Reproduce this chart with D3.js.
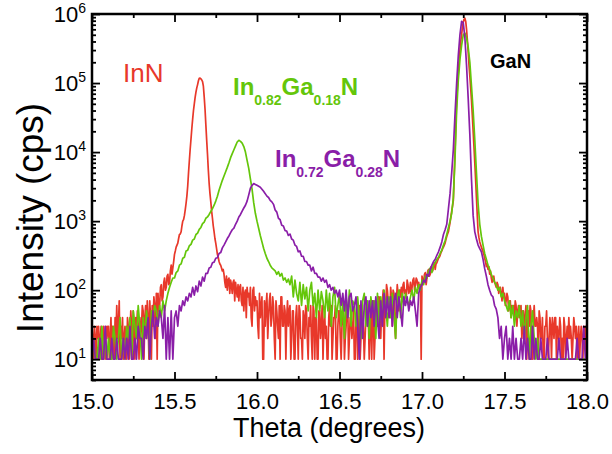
<!DOCTYPE html>
<html>
<head>
<meta charset="utf-8">
<script src="https://cdn.jsdelivr.net/npm/d3@7"></script>
<style>
  body { margin: 0; background: #fff; }
  text { font-family: "Liberation Sans", Arial, Helvetica, sans-serif; }
</style>
</head>
<body>
<svg id="chart" width="612" height="454"></svg>
<script>
// XRD theta scans from 15.00 to 18.00 degrees.
// InN is sampled every 0.005 degree, the two alloys every 0.01 degree.
const thetaStart = 15.0;
const stepInN = 0.005;
const stepAlloy = 0.01;

// InN layer (cps), 601 points
const inN = [
  30,20,10,30,20,10,30,20,30,10,
  20,30,10,20,30,20,10,30,20,30,
  30,10,20,40,10,30,20,10,40,20,
  60,20,30,70,10,30,20,40,10,20,
  30,20,10,40,30,10,20,50,30,10,
  50,30,10,40,20,50,30,10,40,20,
  30,60,50,10,40,60,20,70,40,10,
  70,40,10,60,30,80,60,20,90,10,
  90,50,60,110,120,70,80,130,150,100,
  110,160,170,120,130,190,230,170,210,260,
  330,370,420,450,480,560,640,650,700,850,
  1000,1050,1200,1450,1800,2300,3200,5000,7500,11000,
  15500,22000,30000,40000,50000,62000,74000,85000,95000,108000,
  117000,118000,115000,111000,105000,90000,63000,42000,25000,15000,
  9300,5500,3500,2500,1900,1400,1100,850,700,560,
  480,400,330,300,260,240,230,210,190,200,
  170,130,110,160,100,140,150,90,140,120,
  90,130,140,70,130,100,80,120,70,110,
  120,70,60,110,50,90,100,40,110,80,
  90,60,110,40,30,100,110,50,80,60,
  70,30,20,90,40,60,80,10,10,70,
  30,60,90,20,40,70,90,30,40,80,
  60,20,10,70,50,30,20,60,10,80,
  80,30,30,60,50,10,40,70,30,50,
  60,10,20,50,50,10,10,40,60,30,
  10,60,50,20,20,10,50,40,20,60,
  50,20,10,40,30,60,20,10,60,50,
  10,40,40,10,10,50,50,20,30,60,
  10,30,50,20,30,10,10,40,60,30,
  60,10,20,40,40,60,10,10,30,50,
  50,20,10,30,40,50,10,20,30,60,
  60,10,20,40,40,20,30,50,10,10,
  40,60,10,30,60,10,20,50,50,30,
  10,20,40,70,60,40,10,30,60,10,
  40,70,10,20,60,50,30,80,80,40,
  20,50,70,100,10,60,50,120,100,70,
  70,40,110,80,30,100,90,30,20,70,
  120,90,50,100,80,110,70,120,130,90,
  100,80,140,120,90,100,130,90,110,140,
  150,100,120,150,140,110,130,100,120,10,
  160,140,130,170,180,120,150,190,200,160,
  170,220,210,190,230,250,200,240,250,270,
  290,300,320,350,370,400,420,450,480,540,
  600,650,700,820,950,1150,1400,1650,2000,4500,
  10000,24000,56000,90000,140000,210000,300000,400000,500000,640000,
  760000,840000,870000,780000,600000,420000,280000,180000,126000,85000,
  56000,34000,20000,12000,7000,4000,2200,1200,700,580,
  500,460,420,390,360,330,290,260,220,240,
  200,220,170,190,150,130,140,160,130,120,
  110,130,120,90,100,110,90,70,110,80,
  90,60,70,90,80,50,60,70,40,60,
  50,60,40,70,60,30,50,60,40,50,
  60,20,30,50,20,40,60,10,30,50,
  30,60,50,10,10,40,60,30,30,40,
  30,10,50,40,20,20,40,10,10,30,
  30,50,20,10,20,40,30,10,40,30,
  20,40,40,10,30,20,20,40,30,10,
  20,10,40,30,10,20,30,20,40,20,
  30,20,10,20,40,30,20,30,10,20,
  30,10,20,30,20,10,30,20,30,10,
  20
];

// In0.82Ga0.18N layer (cps), 301 points
const inGaN82 = [
  10,20,10,10,20,10,30,10,20,10,
  20,10,10,30,20,10,20,40,10,20,
  10,30,20,40,10,50,30,20,60,30,
  10,40,20,50,30,10,50,40,60,50,
  30,60,40,70,50,70,90,110,130,150,
  150,180,190,230,240,290,300,370,380,440,
  460,530,550,640,670,760,810,920,970,1100,
  1150,1250,1380,1520,1700,1950,2300,2800,3300,3900,
  4500,5200,6000,7000,8300,9500,10800,12300,14000,14800,
  14300,13500,12000,10000,7600,5800,4100,2900,1850,1300,
  1000,790,620,500,405,340,290,260,230,210,
  200,190,170,185,160,175,140,150,130,145,
  120,160,80,140,90,70,130,60,120,75,
  110,50,100,130,60,90,40,100,50,95,
  70,40,100,50,90,30,80,110,40,60,
  90,30,70,20,80,40,100,30,70,60,
  30,80,40,20,70,90,30,70,20,80,
  50,70,20,90,30,80,40,100,60,30,
  80,40,90,50,20,80,100,40,90,60,
  90,70,60,80,100,70,110,90,120,100,
  140,120,160,150,190,210,180,230,250,280,
  300,340,380,450,520,640,800,1000,1300,2200,
  8000,40000,110000,220000,350000,500000,530000,450000,330000,200000,
  90000,40000,15000,5000,1800,900,600,450,340,280,
  230,200,170,150,130,120,100,110,80,90,
  70,60,50,70,40,60,30,50,40,60,
  30,50,20,40,60,10,30,50,20,10,
  20,10,10,10,10,10,10,10,10,10,
  10,10,10,10,10,10,10,10,10,10,
  10,10,10,10,10,10,10,10,10,10,
  10
];

// In0.72Ga0.28N layer (cps), 301 points
const inGaN72 = [
  10,20,10,10,10,20,10,10,30,10,
  10,10,20,10,10,20,10,10,10,20,
  10,20,10,30,10,10,20,10,30,20,
  20,10,30,20,40,10,30,50,20,40,
  30,50,40,20,60,10,40,10,50,10,
  40,50,30,60,50,70,60,80,70,90,
  80,110,85,115,95,135,115,155,135,175,
  175,210,215,250,255,290,295,340,350,410,
  450,500,560,610,680,750,790,900,1000,1150,
  1250,1400,1550,1700,1950,2400,3000,3300,3500,3400,
  3300,3200,3100,2900,2700,2500,2300,2200,2000,1900,
  1750,1450,1350,1100,1050,870,850,730,720,620,
  650,550,530,450,430,360,370,310,310,260,
  260,230,230,190,215,175,175,155,155,135,
  150,130,140,110,120,100,110,90,100,80,
  100,60,90,50,100,40,80,90,50,60,
  80,30,10,70,20,60,80,30,70,40,
  70,30,80,40,20,70,30,90,40,80,
  40,80,30,70,90,40,80,50,30,80,
  60,80,50,70,60,80,50,30,90,110,
  120,140,130,170,160,200,230,260,280,320,
  360,420,500,640,750,900,1500,2500,5000,11000,
  35000,100000,250000,500000,780000,750000,450000,180000,60000,18000,
  4000,1200,700,550,450,400,360,280,205,160,
  120,100,85,80,60,53,40,20,30,10,
  20,30,10,20,10,30,10,20,10,10,
  20,10,30,10,20,10,10,30,10,20,
  10,10,20,10,10,10,20,10,10,10,
  10,10,10,20,10,10,10,10,20,10,
  10,10,10,10,20,10,10,10,30,10,
  10
];

const xMajorTicks = [15.0, 15.5, 16.0, 16.5, 17.0, 17.5, 18.0];
const xMinorTicks = [15.25, 15.75, 16.25, 16.75, 17.25, 17.75];
const yDecadeExponents = [1, 2, 3, 4, 5, 6];

const colors = { inN: "#e8382a", g82: "#64c60a", g72: "#8a1ea8" };

const svg = d3.select("#chart");
const margin = { left: 92, right: 25, top: 14, bottom: 74 };
const W = 612, H = 454;
const plotW = W - margin.left - margin.right;
const plotH = H - margin.top - margin.bottom;

const x = d3.scaleLinear().domain([15.0, 18.0]).range([margin.left, margin.left + plotW]);
const y = d3.scaleLog().domain([5, 1e6]).range([margin.top + plotH, margin.top]);

svg.append("defs").append("clipPath").attr("id", "plotClip")
  .append("rect")
  .attr("x", margin.left).attr("y", margin.top)
  .attr("width", plotW).attr("height", plotH);

// Drawing order: InN underneath, then In0.82Ga0.18N, then In0.72Ga0.28N
const series = [
  { data: inN, step: stepInN, color: colors.inN },
  { data: inGaN82, step: stepAlloy, color: colors.g82 },
  { data: inGaN72, step: stepAlloy, color: colors.g72 }
];

const gData = svg.append("g").attr("clip-path", "url(#plotClip)");
series.forEach(s => {
  const pts = s.data.map((v, i) => [thetaStart + i * s.step, v]);
  const line = d3.line().x(d => x(d[0])).y(d => y(d[1]));
  gData.append("path")
    .datum(pts)
    .attr("d", line)
    .attr("fill", "none")
    .attr("stroke", s.color)
    .attr("stroke-width", 1.7)
    .attr("stroke-linejoin", "round");
});

// Axes: ticks point inward on all four sides
function styleAxis(g) {
  g.select(".domain").remove();
  g.selectAll(".tick line").attr("stroke", "#000").attr("stroke-width", 1.8);
}

const bottomY = margin.top + plotH;
const leftX = margin.left, rightX = margin.left + plotW;

svg.append("g").attr("transform", `translate(0,${bottomY})`)
  .call(d3.axisBottom(x).tickValues(xMajorTicks).tickSize(-8).tickPadding(13)
    .tickFormat(d3.format(".1f")))
  .call(styleAxis)
  .call(g => g.selectAll("text").attr("font-size", 22).attr("fill", "#000")
    .style("font-family", '"Liberation Sans", Arial, sans-serif'));

svg.append("g").attr("transform", `translate(0,${bottomY})`)
  .call(d3.axisBottom(x).tickValues(xMinorTicks).tickSize(-4).tickFormat(""))
  .call(styleAxis);

svg.append("g").attr("transform", `translate(0,${margin.top})`)
  .call(d3.axisTop(x).tickValues(xMajorTicks).tickSize(-8).tickFormat(""))
  .call(styleAxis);
svg.append("g").attr("transform", `translate(0,${margin.top})`)
  .call(d3.axisTop(x).tickValues(xMinorTicks).tickSize(-4).tickFormat(""))
  .call(styleAxis);

const yMajor = yDecadeExponents.map(e => Math.pow(10, e));
const yMinor = [];
[0, 1, 2, 3, 4, 5].forEach(e => {
  for (let m = 2; m <= 9; m++) {
    const v = m * Math.pow(10, e);
    if (v >= 5 && v < 1e6) yMinor.push(v);
  }
});

svg.append("g").attr("transform", `translate(${leftX},0)`)
  .call(d3.axisLeft(y).tickValues(yMajor).tickSize(-8).tickFormat(""))
  .call(styleAxis);
svg.append("g").attr("transform", `translate(${leftX},0)`)
  .call(d3.axisLeft(y).tickValues(yMinor).tickSize(-4).tickFormat(""))
  .call(styleAxis);
svg.append("g").attr("transform", `translate(${rightX},0)`)
  .call(d3.axisRight(y).tickValues(yMajor).tickSize(-8).tickFormat(""))
  .call(styleAxis);
svg.append("g").attr("transform", `translate(${rightX},0)`)
  .call(d3.axisRight(y).tickValues(yMinor).tickSize(-4).tickFormat(""))
  .call(styleAxis);

// Power-of-ten labels on the left axis
const yLab = svg.append("g");
yDecadeExponents.forEach(e => {
  const t = yLab.append("text")
    .attr("x", leftX - 6)
    .attr("y", y(Math.pow(10, e)) + 8)
    .attr("text-anchor", "end")
    .attr("font-size", 22)
    .attr("fill", "#000");
  t.append("tspan").text("10");
  t.append("tspan").attr("dy", -9).attr("font-size", 14).text(String(e));
});

// Plot frame
svg.append("rect")
  .attr("x", leftX).attr("y", margin.top)
  .attr("width", plotW).attr("height", plotH)
  .attr("fill", "none").attr("stroke", "#000").attr("stroke-width", 2.5);

// Axis titles
svg.append("text")
  .attr("x", 329).attr("y", 437)
  .attr("text-anchor", "middle")
  .attr("font-size", 27)
  .attr("fill", "#000")
  .text("Theta (degrees)");

svg.append("text")
  .attr("transform", "translate(43,218) rotate(-90)")
  .attr("text-anchor", "middle")
  .attr("font-size", 37)
  .attr("fill", "#000")
  .text("Intensity (cps)");

// Series labels
svg.append("text")
  .attr("x", 123).attr("y", 82)
  .attr("font-size", 26)
  .attr("fill", colors.inN)
  .text("InN");

function alloyLabel(xp, yp, color, parts) {
  const t = svg.append("text")
    .attr("x", xp).attr("y", yp)
    .attr("font-size", 24)
    .attr("font-weight", "bold")
    .attr("fill", color);
  let lowered = false;
  parts.forEach(p => {
    const ts = t.append("tspan").text(p.text);
    if (p.sub) {
      ts.attr("font-size", 14).attr("dy", lowered ? 0 : 10);
      lowered = true;
    } else {
      ts.attr("dy", lowered ? -10 : 0);
      lowered = false;
    }
  });
}

alloyLabel(233, 95, colors.g82, [
  { text: "In" }, { text: "0.82", sub: true },
  { text: "Ga" }, { text: "0.18", sub: true }, { text: "N" }
]);
alloyLabel(275, 167, colors.g72, [
  { text: "In" }, { text: "0.72", sub: true },
  { text: "Ga" }, { text: "0.28", sub: true }, { text: "N" }
]);

svg.append("text")
  .attr("x", 490).attr("y", 68)
  .attr("font-size", 20)
  .attr("font-weight", "bold")
  .attr("fill", "#000")
  .text("GaN");
</script>
</body>
</html>
